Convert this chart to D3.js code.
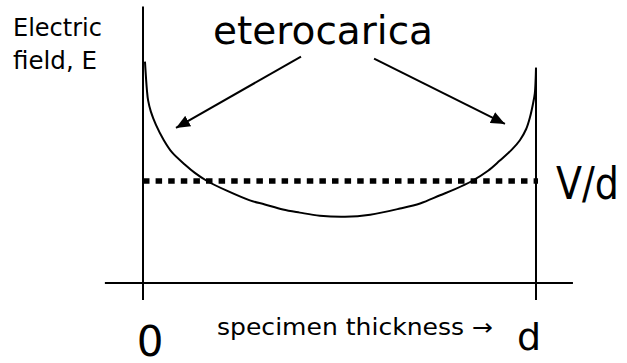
<!DOCTYPE html>
<html>
<head>
<meta charset="utf-8">
<script src="https://cdn.jsdelivr.net/npm/d3@7"></script>
<style>
  html, body { margin: 0; padding: 0; background: #fff; }
  svg { display: block; }
  text { font-family: "DejaVu Sans", Verdana, sans-serif; fill: #000; }
</style>
</head>
<body>
<svg id="chart" width="627" height="363"></svg>
<script>
// Position across the specimen (0 = one electrode, 1 = the other, i.e. d)
const thickness = [0.005, 0.010, 0.013, 0.020, 0.033, 0.053, 0.074, 0.107, 0.132, 0.163,
                   0.216, 0.272, 0.310, 0.356, 0.399, 0.450, 0.514, 0.578, 0.654, 0.705,
                   0.756, 0.794, 0.837, 0.878, 0.908, 0.939, 0.959, 0.975, 0.985, 0.992,
                   0.997, 0.999, 1.0];
// Local electric field, in units of the mean field V/d
const field = [2.17, 1.89, 1.79, 1.68, 1.55, 1.40, 1.28, 1.16, 1.08, 1.00,
               0.90, 0.81, 0.77, 0.72, 0.69, 0.66, 0.65, 0.67, 0.73, 0.78,
               0.86, 0.92, 1.00, 1.10, 1.20, 1.31, 1.40, 1.51, 1.63, 1.75,
               1.86, 1.99, 2.11];
// Mean field level
const meanField = 1;
// Axis end labels
const tickLabels = ["0", "d"];
const tickPositions = [0, 1];
// Annotation arrows (tail -> tip), in data units
const arrowTails = [[0.402, 2.22], [0.588, 2.20]];
const arrowTips  = [[0.084, 1.52], [0.921, 1.56]];

const svg = d3.select("#chart");

const x = d3.scaleLinear().domain([0, 1]).range([143, 536]);
const y = d3.scaleLinear().domain([0, 1]).range([283, 181]);

// Horizontal axis
svg.append("line")
  .attr("x1", x(-0.097)).attr("x2", x(1.094))
  .attr("y1", y(0)).attr("y2", y(0))
  .attr("stroke", "#000").attr("stroke-width", 2);

// Left electrode / field axis
svg.append("line")
  .attr("x1", x(0)).attr("x2", x(0))
  .attr("y1", y(2.71)).attr("y2", y(-0.167))
  .attr("stroke", "#000").attr("stroke-width", 2);

// Right electrode
svg.append("line")
  .attr("x1", x(1)).attr("x2", x(1))
  .attr("y1", y(2.11)).attr("y2", y(-0.167))
  .attr("stroke", "#000").attr("stroke-width", 2);

// Mean field V/d
svg.append("line")
  .attr("x1", x(0)).attr("x2", x(1) + 2)
  .attr("y1", y(meanField)).attr("y2", y(meanField))
  .attr("stroke", "#000").attr("stroke-width", 5.5)
  .attr("stroke-dasharray", "6.5,6.1");

// Field profile with space charge at both electrodes
const pts = thickness.map((t, i) => [x(t), y(field[i])]);
svg.append("path")
  .attr("d", d3.line().curve(d3.curveCatmullRom.alpha(0.5))(pts))
  .attr("fill", "none").attr("stroke", "#000").attr("stroke-width", 2);

// Arrowhead marker
svg.append("defs").append("marker")
  .attr("id", "head")
  .attr("markerUnits", "userSpaceOnUse")
  .attr("viewBox", "0 0 14 12")
  .attr("refX", 14).attr("refY", 6)
  .attr("markerWidth", 14).attr("markerHeight", 12)
  .attr("orient", "auto")
  .append("path").attr("d", "M0,0 L14,6 L0,12 Z").attr("fill", "#000");

arrowTails.forEach((tail, i) => {
  const tip = arrowTips[i];
  svg.append("line")
    .attr("x1", x(tail[0])).attr("y1", y(tail[1]))
    .attr("x2", x(tip[0])).attr("y2", y(tip[1]))
    .attr("stroke", "#000").attr("stroke-width", 2)
    .attr("marker-end", "url(#head)");
});

// Annotation label
svg.append("text")
  .attr("x", 213).attr("y", 44)
  .attr("font-size", 39)
  .attr("textLength", 220).attr("lengthAdjust", "spacingAndGlyphs")
  .text("eterocarica");

// Vertical axis title
const yTitle = svg.append("text").attr("font-size", 24);
yTitle.append("tspan").attr("x", 13).attr("y", 36)
  .attr("textLength", 89).attr("lengthAdjust", "spacingAndGlyphs").text("Electric");
yTitle.append("tspan").attr("x", 13).attr("y", 69)
  .attr("textLength", 84).attr("lengthAdjust", "spacingAndGlyphs").text("field, E");

// Mean field label
svg.append("text")
  .attr("x", 556).attr("y", y(meanField) + 18)
  .attr("font-size", 44)
  .attr("textLength", 63).attr("lengthAdjust", "spacingAndGlyphs")
  .text("V/d");

// End labels
svg.selectAll("text.tick")
  .data(tickLabels)
  .join("text")
  .attr("class", "tick")
  .attr("x", (d, i) => x(tickPositions[i]) + 7 - 14 * i)
  .attr("y", (d, i) => i === 0 ? 356 : 350)
  .attr("text-anchor", "middle")
  .attr("font-size", (d, i) => i === 0 ? 42 : 38)
  .text(d => d);

// Horizontal axis title
svg.append("text")
  .attr("x", 217).attr("y", 335)
  .attr("font-size", 23)
  .attr("textLength", 276).attr("lengthAdjust", "spacingAndGlyphs")
  .text("specimen thickness \u2192");
</script>
</body>
</html>
